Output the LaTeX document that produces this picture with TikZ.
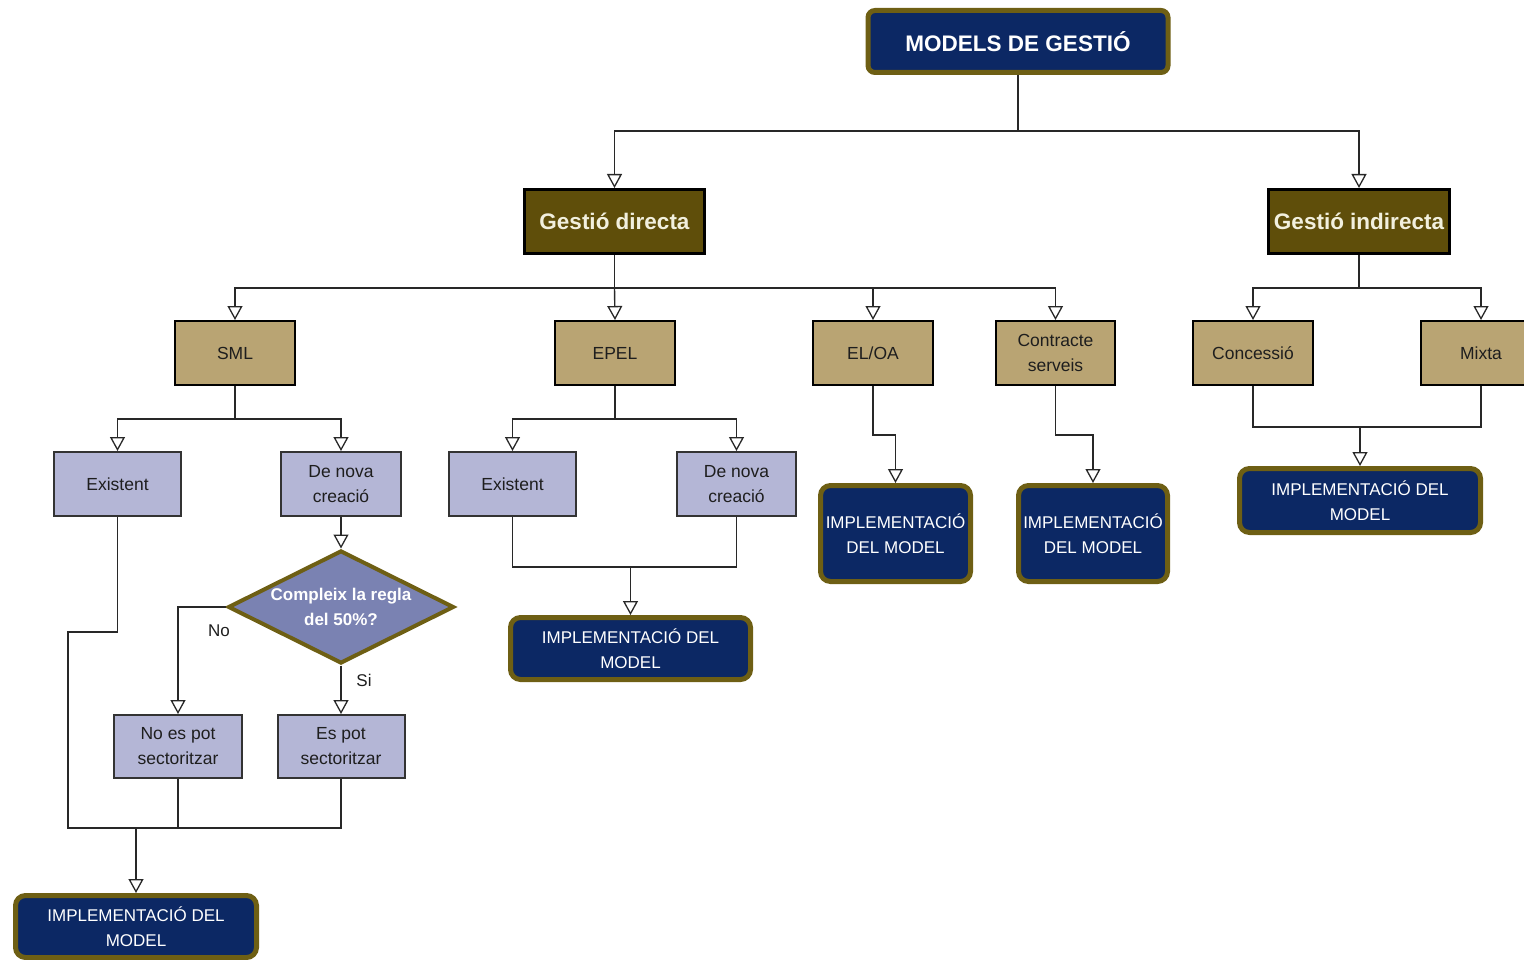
\documentclass[tikz,border=0pt]{standalone}
\usepackage{fontspec}
\setmainfont{Liberation Sans}
\usetikzlibrary{arrows.meta,shapes.geometric}
\definecolor{navy}{RGB}{12,40,100}
\definecolor{olivebd}{RGB}{110,95,20}
\definecolor{gfill}{RGB}{95,78,10}
\definecolor{cream}{RGB}{242,240,222}
\definecolor{tan}{RGB}{185,164,115}
\definecolor{lav}{RGB}{180,182,214}
\definecolor{diafill}{RGB}{122,130,178}
\definecolor{ink}{RGB}{30,30,30}
\definecolor{lnc}{RGB}{40,40,40}
\begin{document}
\begin{tikzpicture}[x=1pt,y=-1pt,
  every node/.style={inner sep=0pt, align=center},
  topbox/.style={draw=olivebd, fill=navy, line width=5pt, rounded corners=7pt, text=white, font=\bfseries\fontsize{22.5}{26}\selectfont},
  gbox/.style={draw=black, fill=gfill, line width=3pt, text=cream, font=\bfseries\fontsize{22.5}{26}\selectfont},
  tbox/.style={draw=black, fill=tan, line width=2pt, text=ink, font=\fontsize{17.5}{25}\selectfont, minimum height=64pt},
  lbox/.style={draw=black!80, fill=lav, line width=2pt, text=ink, font=\fontsize{17.5}{25}\selectfont, minimum height=64pt},
  impl/.style={draw=olivebd, fill=navy, line width=5pt, rounded corners=10pt, text=white, font=\fontsize{17}{25}\selectfont},
  conn/.style={draw=lnc, line width=1.4pt},
  arr/.style={conn, -{Triangle[open, width=15pt, length=14pt, line width=1.3pt]}},
  lab/.style={text=ink, font=\fontsize{17}{20}\selectfont}
]
\useasboundingbox (0,0) rectangle (1524,960);
\clip (0,0) rectangle (1524,960);

% top
\node[topbox, minimum width=300pt, minimum height=62pt] (top) at (1018,41.5) {MODELS DE GESTIÓ};
\node[gbox, minimum width=180pt, minimum height=64pt] (gd) at (614.5,221.5) {Gestió directa};
\node[gbox, minimum width=181pt, minimum height=64pt] (gi) at (1359,221.5) {Gestió indirecta};

% level 3
\node[tbox, minimum width=120pt] (sml) at (235,353) {SML};
\node[tbox, minimum width=120pt] (epel) at (615,353) {EPEL};
\node[tbox, minimum width=120pt] (eloa) at (873,353) {EL/OA};
\node[tbox, minimum width=119pt] (cs) at (1055.5,353) {Contracte\\serveis};
\node[tbox, minimum width=120pt] (conc) at (1253,353) {Concessió};
\node[tbox, minimum width=120pt] (mixta) at (1481,353) {Mixta};

% level 4
\node[lbox, minimum width=127pt] (ex1) at (117.5,484) {Existent};
\node[lbox, minimum width=120pt] (dn1) at (341,484) {De nova\\creació};
\node[lbox, minimum width=127pt] (ex2) at (512.5,484) {Existent};
\node[lbox, minimum width=119pt] (dn2) at (736.5,484) {De nova\\creació};

% diamond
\node[diamond, draw=olivebd, fill=diafill, line width=4pt, minimum width=226pt, minimum height=113pt] (dia) at (341,607) {};
\node[text=white, font=\bfseries\fontsize{17}{25}\selectfont] at (dia) {Compleix la regla\\del 50\%?};

\node[lbox, minimum width=128pt, minimum height=63pt] (nes) at (178,746.5) {No es pot\\sectoritzar};
\node[lbox, minimum width=127pt, minimum height=63pt] (es) at (341,746.5) {Es pot\\sectoritzar};

% implementation boxes
\node[impl, minimum width=241pt, minimum height=62pt] (imp1) at (136,926.5) {IMPLEMENTACIÓ DEL\\MODEL};
\node[impl, minimum width=240pt, minimum height=62pt] (imp2) at (630.5,648.5) {IMPLEMENTACIÓ DEL\\MODEL};
\node[impl, minimum width=150pt, minimum height=96pt] (imp3) at (895.5,533.5) {IMPLEMENTACIÓ\\DEL MODEL};
\node[impl, minimum width=149pt, minimum height=96pt] (imp4) at (1093,533.5) {IMPLEMENTACIÓ\\DEL MODEL};
\node[impl, minimum width=241pt, minimum height=64pt] (imp5) at (1360,500.5) {IMPLEMENTACIÓ DEL\\MODEL};

% connectors top
\coordinate (b1) at (1018,131);
\draw[conn] (top.south) -- (b1);
\draw[arr] (b1) -| (gd.north);
\draw[arr] (b1) -| (gi.north);

\coordinate (b2) at (614.5,288);
\draw[conn] (gd.south) -- (b2);
\draw[arr] (b2) -| (sml.north);
\draw[arr] (b2) -- (epel.north);
\draw[arr] (b2) -| (eloa.north);
\draw[arr] (b2) -| (cs.north);

\coordinate (b3) at (1359,288);
\draw[conn] (gi.south) -- (b3);
\draw[arr] (b3) -| (conc.north);
\draw[arr] (b3) -| (mixta.north);

% SML branch
\coordinate (b4) at (235,419);
\draw[conn] (sml.south) -- (b4);
\draw[arr] (b4) -| (ex1.north);
\draw[arr] (b4) -| (dn1.north);
\draw[arr] (dn1.south) -- (dia.north);
\draw[arr] (dia.west) -| (nes.north);
\draw[arr] (dia.south) -- (es.north);
\node[lab] at (219,631) {No};
\node[lab] at (364,680) {Si};

\coordinate (b6) at (136,828);
\draw[conn] (ex1.south) -- ++(0,115) -- (68,632) -- (68,828) -| (es.south);
\draw[conn] (nes.south) -- (nes.south |- b6);
\draw[arr] (b6) -- (imp1.north);

% EPEL branch
\coordinate (b5) at (615,419);
\draw[conn] (epel.south) -- (b5);
\draw[arr] (b5) -| (ex2.north);
\draw[arr] (b5) -| (dn2.north);
\coordinate (b7) at (630.5,567);
\draw[conn] (ex2.south) |- (b7) -| (dn2.south);
\draw[arr] (b7) -- (imp2.north);

% EL/OA and Contracte
\draw[arr] (eloa.south) -- ++(0,49) -| (imp3.north);
\draw[arr] (cs.south) -- ++(0,49) -| (imp4.north);

% indirecta branch
\coordinate (b8) at (1360,427);
\draw[conn] (conc.south) |- (b8) -| (mixta.south);
\draw[arr] (b8) -- (imp5.north);
\end{tikzpicture}
\end{document}
